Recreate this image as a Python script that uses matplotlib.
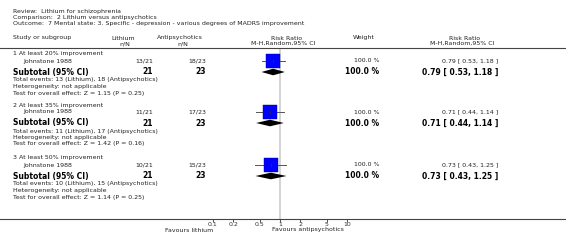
import matplotlib.pyplot as plt
import numpy as np

# datos del forest plot
grupos = ['1 At least 20% improvement', '2 At least 35% improvement', '3 At least 50% improvement']
estudio = 'Johnstone 1988'
lit_eventos = [13, 11, 10]
lit_n = [21, 21, 21]
anti_eventos = [18, 17, 15]
anti_n = [23, 23, 23]
rr = [0.79, 0.71, 0.73]
rr_lo = [0.53, 0.44, 0.43]
rr_hi = [1.18, 1.14, 1.25]
peso = [100.0, 100.0, 100.0]
z_val = [1.15, 1.42, 1.14]
p_val = [0.25, 0.16, 0.25]
ticks = [0.1, 0.2, 0.5, 1, 2, 5, 10]

W, H = 566, 249
px_uno = 280      # posicion del 1
px_dec = 67       # pixeles por decada
y_top, y_bot = 48, 219

fig = plt.figure(figsize=(W / 100, H / 100), dpi=100)
fig.patch.set_facecolor('white')
ax = fig.add_axes([0, 1 - y_bot / H, 1, (y_bot - y_top) / H])
ax.set_xscale('log')
ax.set_xlim(10 ** (-px_uno / px_dec), 10 ** ((W - px_uno) / px_dec))
ax.set_ylim(y_bot, y_top)
for s in ['left', 'right']:
    ax.spines[s].set_visible(False)
for s in ['top', 'bottom']:
    ax.spines[s].set_color('#444444')
    ax.spines[s].set_linewidth(0.8)
ax.set_yticks([])
ax.set_xticks(ticks)
ax.set_xticklabels([str(t) for t in ticks])
ax.minorticks_off()
ax.tick_params(axis='x', labelsize=4.5, length=2, width=0.6, pad=0.5, colors='#333333')

ax.axvline(1, color='#d0d0d0', lw=1.3, zorder=0)

T = ax.get_yaxis_transform()
c = '#222222'
fs = 4.5

def txt(x, y, s, **kw):
    kw.setdefault('fontsize', fs)
    kw.setdefault('color', c)
    kw.setdefault('va', 'center')
    ax.text(x / W, y, s, transform=T, clip_on=False, **kw)

# cabecera
txt(13, 12, 'Review:  Lithium for schizophrenia')
txt(13, 17.5, 'Comparison:  2 Lithium versus antipsychotics')
txt(13, 23, 'Outcome:  7 Mental state: 3. Specific - depression - various degrees of MADRS improvement')
txt(13, 38, 'Study or subgroup')
txt(123, 38, 'Lithium', ha='center')
txt(125, 43.5, 'n/N', ha='center')
txt(180, 38, 'Antipsychotics', ha='center')
txt(183, 43.5, 'n/N', ha='center')
txt(287, 38, 'Risk Ratio', ha='center')
txt(283, 43.5, 'M-H,Random,95% CI', ha='center')
txt(364, 38, 'Weight', ha='center')
txt(465, 38, 'Risk Ratio', ha='center')
txt(462, 43.5, 'M-H,Random,95% CI', ha='center')

inicio = [54, 105, 158]
for i, g in enumerate(grupos):
    y0 = inicio[i]
    y_est = y0 + 7
    y_sub = y0 + 18
    txt(13, y0, g)
    txt(23, y_est, estudio)
    txt(153, y_est, '%d/%d' % (lit_eventos[i], lit_n[i]), ha='right')
    txt(206, y_est, '%d/%d' % (anti_eventos[i], anti_n[i]), ha='right')
    txt(379, y_est, '%.1f %%' % peso[i], ha='right')
    txt(498, y_est, '%.2f [ %.2f, %.2f ]' % (rr[i], rr_lo[i], rr_hi[i]), ha='right')
    # estudio
    ax.plot([rr_lo[i], rr_hi[i]], [y_est, y_est], color='#555555', lw=0.7, zorder=2)
    ax.plot([rr[i]], [y_est], marker='s', ms=9.5, mfc='#0000ff', mec='#000080', mew=0.3, zorder=3)
    ax.plot([rr[i]], [y_est], marker='|', ms=3, color='#333333', mew=0.5, zorder=4)
    # subtotal
    txt(13, y_sub, 'Subtotal (95% CI)', fontsize=5.5, fontweight='bold', color='black')
    txt(153, y_sub, str(lit_n[i]), ha='right', fontsize=5.5, fontweight='bold', color='black')
    txt(206, y_sub, str(anti_n[i]), ha='right', fontsize=5.5, fontweight='bold', color='black')
    txt(379, y_sub, '%.1f %%' % peso[i], ha='right', fontsize=5.5, fontweight='bold', color='black')
    txt(498, y_sub, '%.2f [ %.2f, %.2f ]' % (rr[i], rr_lo[i], rr_hi[i]), ha='right',
        fontsize=5.5, fontweight='bold', color='black')
    ax.fill([rr_lo[i], rr[i], rr_hi[i], rr[i]], [y_sub, y_sub - 3.3, y_sub, y_sub + 3.3],
            color='black', lw=0, zorder=3)
    txt(13, y0 + 26, 'Total events: %d (Lithium), %d (Antipsychotics)' % (lit_eventos[i], anti_eventos[i]))
    txt(13, y0 + 32.5, 'Heterogeneity: not applicable')
    txt(13, y0 + 39, 'Test for overall effect: Z = %.2f (P = %.2f)' % (z_val[i], p_val[i]))

txt(213, 230, 'Favours lithium', ha='right')
txt(272, 230, 'Favours antipsychotics', ha='left')

fig.savefig('out.png', dpi=100)
